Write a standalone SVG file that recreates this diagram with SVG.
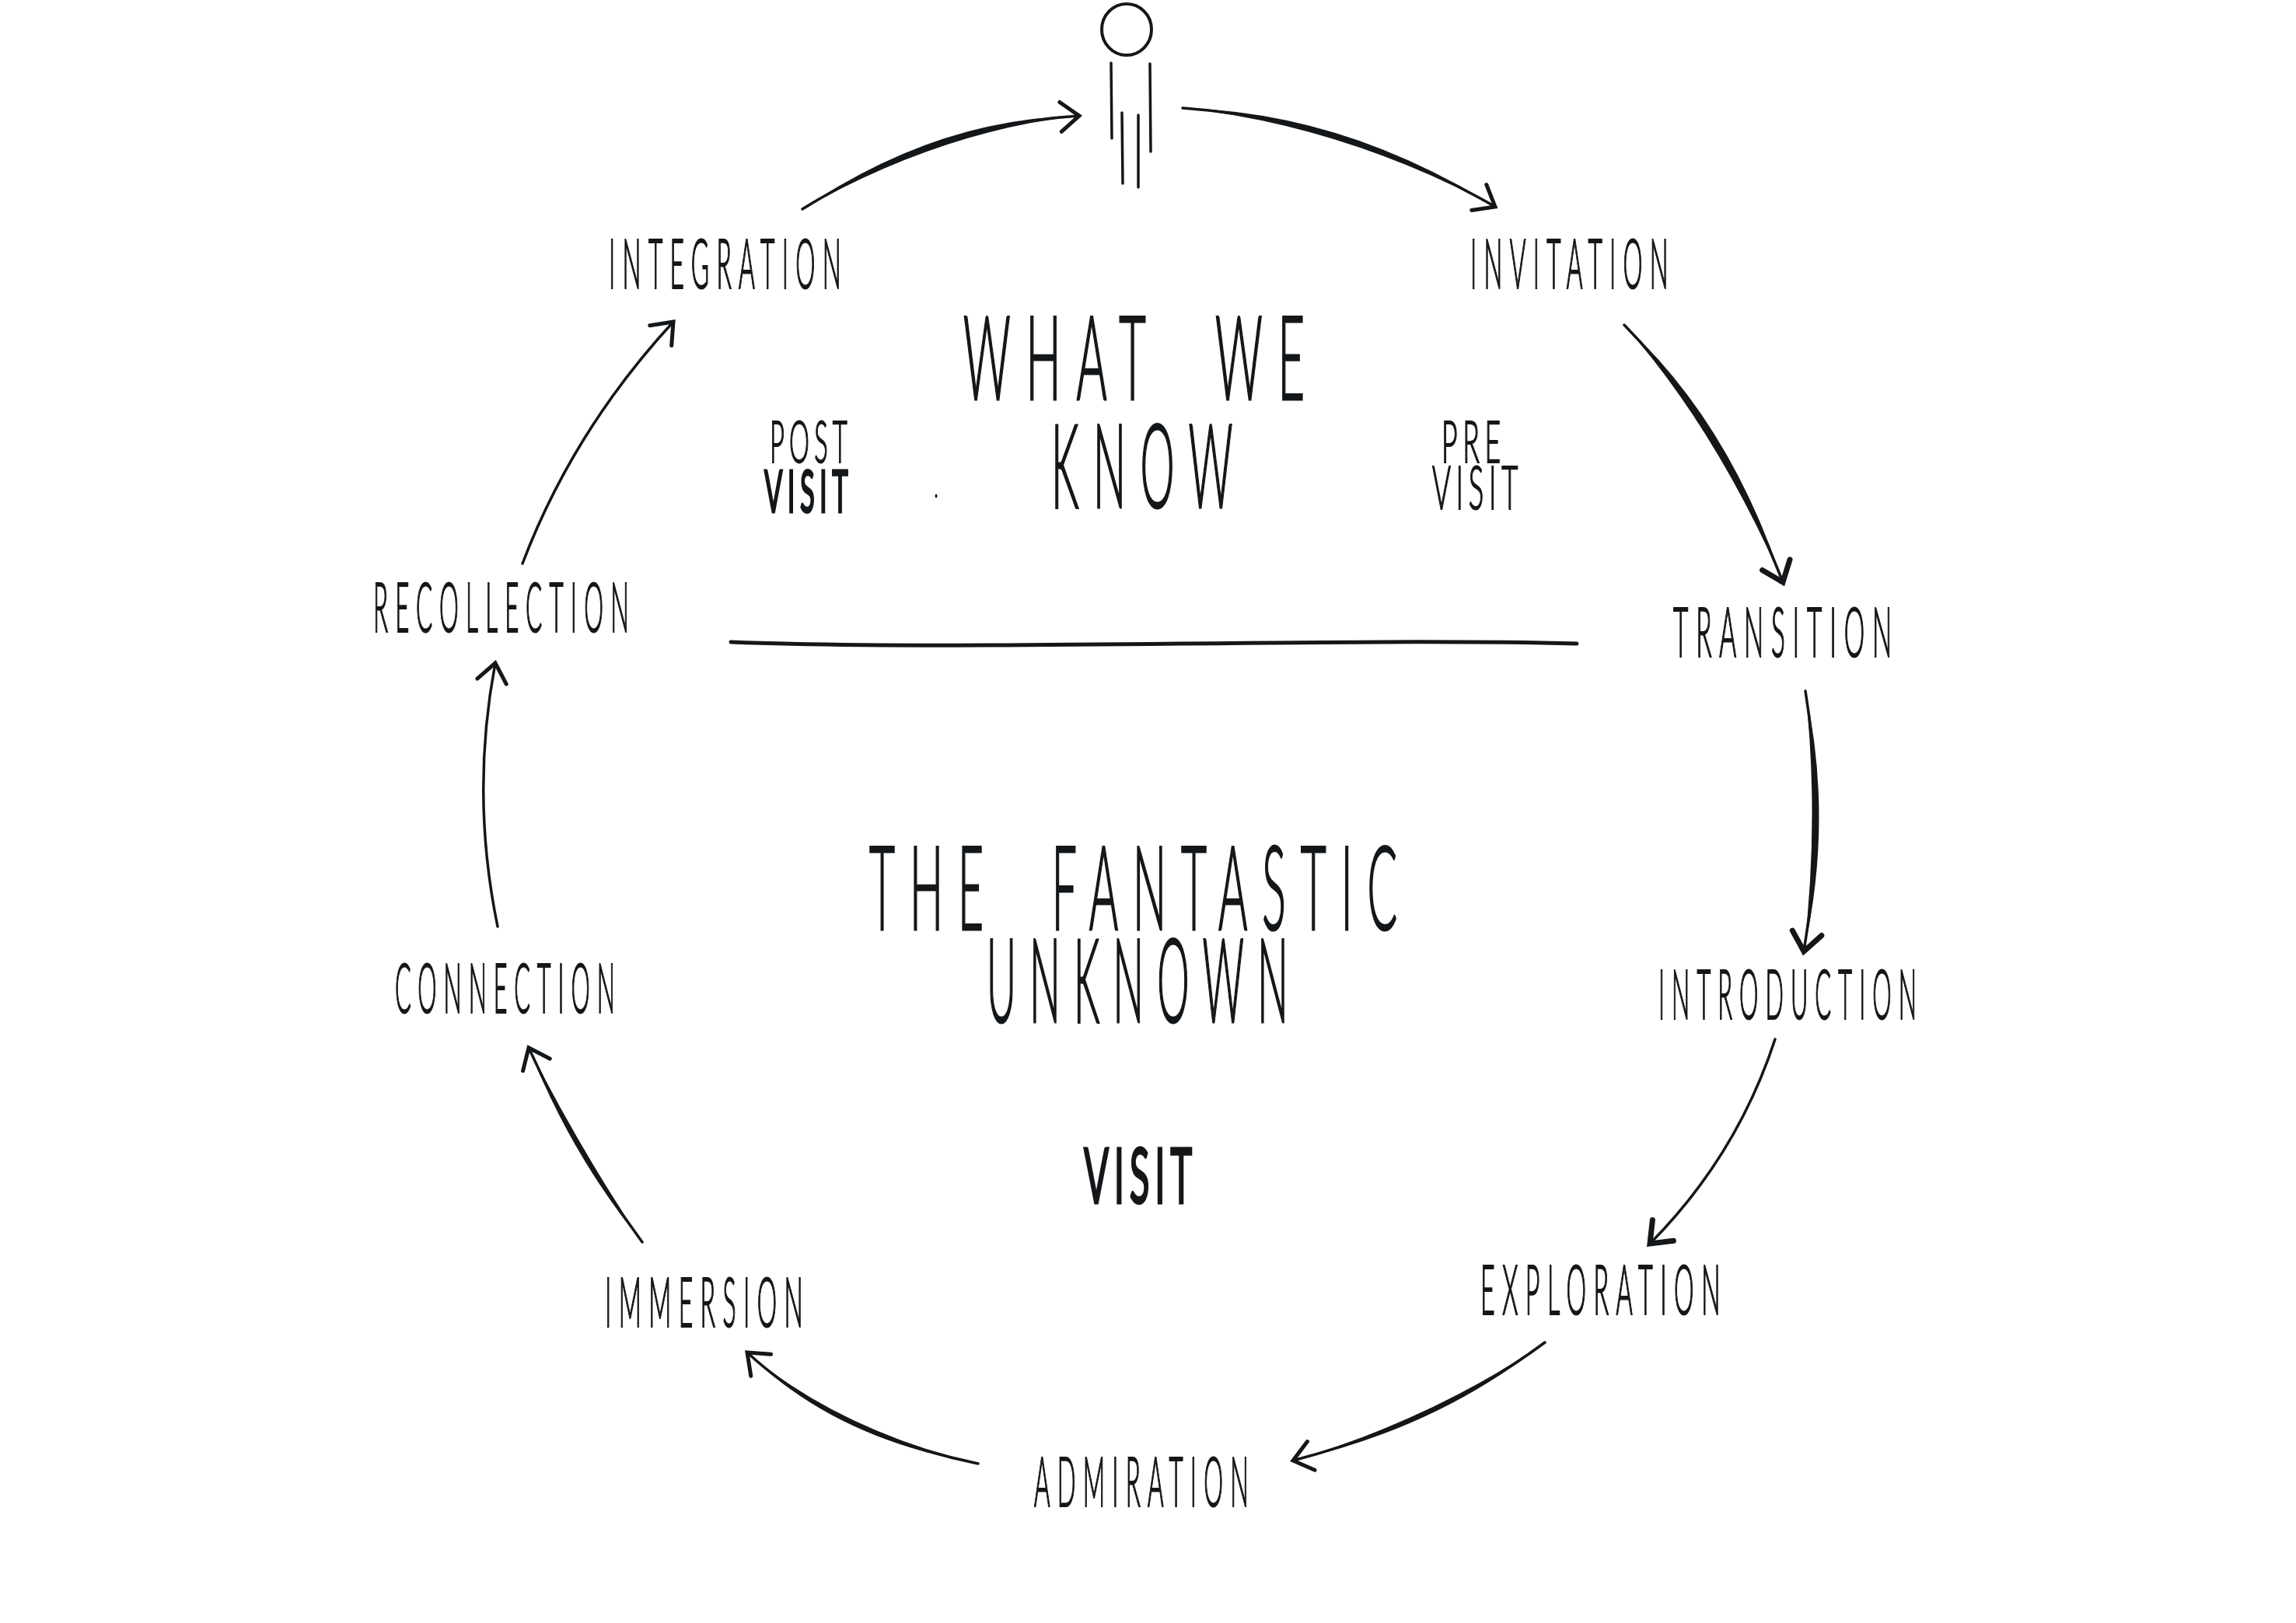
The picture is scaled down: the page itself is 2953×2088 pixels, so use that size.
<svg xmlns="http://www.w3.org/2000/svg" width="2953" height="2088" viewBox="0 0 2953 2088">
<style>
text{font-family:"Lato","Open Sans","Liberation Sans",sans-serif;font-weight:300;fill:#14171a;stroke:#14171a;stroke-width:2.2;white-space:pre}
.label{font-size:88px;letter-spacing:26px}
.big{font-size:150px;letter-spacing:50px;stroke-width:3}
.small{font-size:74px;letter-spacing:14px;stroke-width:2}
.bold{font-size:76px;font-weight:400;letter-spacing:14px;stroke-width:3.2}
.conn{fill:none;stroke:#14171a;stroke-width:3.5;stroke-linecap:round}
.taper{fill:#14171a}
.body{fill:none;stroke:#14171a;stroke-width:3.5;stroke-linecap:round}
</style>
<defs>
<marker id="head" markerUnits="userSpaceOnUse" viewBox="-40 -30 50 60" refX="0" refY="0" markerWidth="50" markerHeight="60" orient="auto">
<path d="M-24,-19 L0,0 L-24,19" fill="none" stroke="#14171a" stroke-width="5" stroke-linecap="round"/>
</marker>
<marker id="headThick" markerUnits="userSpaceOnUse" viewBox="-40 -30 50 60" refX="0" refY="0" markerWidth="50" markerHeight="60" orient="auto">
<path d="M-24,-19 L0,0 L-24,19" fill="none" stroke="#14171a" stroke-width="7" stroke-linecap="round"/>
</marker>
</defs>
<rect width="2953" height="2088" fill="#fff"/>
<g id="connectors">
<path class="conn" marker-end="url(#head)" d="M1032,269 Q1208,160 1388,149"/>
<path class="taper" d="M1032,269 Q1211,168 1388,149 Q1205,152 1032,269Z"/>
<path class="conn" marker-end="url(#head)" d="M1521,139 Q1728,153 1923,266"/>
<path class="taper" d="M1521,139 Q1726,161 1923,266 Q1730,145 1521,139Z"/>
<path class="conn" marker-end="url(#headThick)" d="M2089,418 Q2215,547 2293,749"/>
<path class="taper" d="M2089,418 Q2224,542 2293,749 Q2207,552 2089,418Z"/>
<path class="conn" marker-end="url(#headThick)" d="M2322,889 Q2349,1055 2320,1224"/>
<path class="taper" d="M2322,889 Q2358,1055 2320,1224 Q2340,1055 2322,889Z"/>
<path class="conn" marker-end="url(#headThick)" d="M2283,1337 Q2234,1487 2122,1600"/>
<path class="conn" marker-end="url(#head)" d="M1987,1727 Q1847,1831 1663,1879"/>
<path class="taper" d="M1987,1727 Q1850,1837 1663,1879 Q1844,1825 1987,1727Z"/>
<path class="conn" marker-end="url(#head)" d="M1258,1883 Q1075,1845 961,1740"/>
<path class="taper" d="M1258,1883 Q1078,1839 961,1740 Q1072,1851 1258,1883Z"/>
<path class="conn" marker-end="url(#head)" d="M826,1598 Q741,1483 680,1348"/>
<path class="taper" d="M826,1598 Q747,1480 680,1348 Q735,1487 826,1598Z"/>
<path class="conn" marker-end="url(#head)" d="M640,1192 Q605,1022 637,853"/>
<path class="conn" marker-end="url(#head)" d="M672,725 Q737,554 866,414"/>
<path class="conn" style="stroke-width:5" d="M940,826 C1250,838 1700,820 2028,828"/>
</g>
<g id="person">
<ellipse cx="1449" cy="38" rx="32" ry="33" fill="none" stroke="#14171a" stroke-width="4"/>
<path class="body" d="M1429,81 L1430,178 M1479,82 L1480,195 M1443,145 L1444,236 M1464,148 L1464,241"/>
</g>
<g id="integration"><text class="label" x="783" y="371" textLength="308" lengthAdjust="spacingAndGlyphs">INTEGRATION</text></g>
<g id="invitation"><text class="label" x="1891" y="371" textLength="264" lengthAdjust="spacingAndGlyphs">INVITATION</text></g>
<g id="transition"><text class="label" x="2152" y="845" textLength="291" lengthAdjust="spacingAndGlyphs">TRANSITION</text></g>
<g id="introduction"><text class="label" x="2133" y="1311" textLength="341" lengthAdjust="spacingAndGlyphs">INTRODUCTION</text></g>
<g id="exploration"><text class="label" x="1904" y="1691" textLength="318" lengthAdjust="spacingAndGlyphs">EXPLORATION</text></g>
<g id="admiration"><text class="label" x="1330" y="1938" textLength="285" lengthAdjust="spacingAndGlyphs">ADMIRATION</text></g>
<g id="immersion"><text class="label" x="778" y="1707" textLength="264" lengthAdjust="spacingAndGlyphs">IMMERSION</text></g>
<g id="connection"><text class="label" x="508" y="1303" textLength="292" lengthAdjust="spacingAndGlyphs">CONNECTION</text></g>
<g id="recollection"><text class="label" x="480" y="813" textLength="338" lengthAdjust="spacingAndGlyphs">RECOLLECTION</text></g>
<g id="what-we-know">
<text class="big" x="1239" y="514" textLength="459" lengthAdjust="spacingAndGlyphs">WHAT  WE</text>
<text class="big" x="1352" y="653" textLength="252" lengthAdjust="spacingAndGlyphs">KNOW</text>
</g>
<g id="fantastic-unknown">
<text class="big" x="1118" y="1196" textLength="698" lengthAdjust="spacingAndGlyphs">THE  FANTASTIC</text>
<text class="big" x="1269" y="1315" textLength="405" lengthAdjust="spacingAndGlyphs">UNKNOWN</text>
</g>
<g id="post-visit">
<text class="small" x="990" y="595" textLength="106" lengthAdjust="spacingAndGlyphs">POST</text>
<text class="bold" x="983" y="659" textLength="114" lengthAdjust="spacingAndGlyphs">VISIT</text>
</g>
<g id="pre-visit">
<text class="small" x="1854" y="595" textLength="83" lengthAdjust="spacingAndGlyphs">PRE</text>
<text class="small" style="font-size:76px" x="1842" y="655" textLength="117" lengthAdjust="spacingAndGlyphs">VISIT</text>
</g>
<g id="visit"><text class="bold" style="font-size:98px" x="1394" y="1548" textLength="146" lengthAdjust="spacingAndGlyphs">VISIT</text></g>
<ellipse cx="1204" cy="638" rx="1.5" ry="2.5" fill="#14171a"/>
</svg>
